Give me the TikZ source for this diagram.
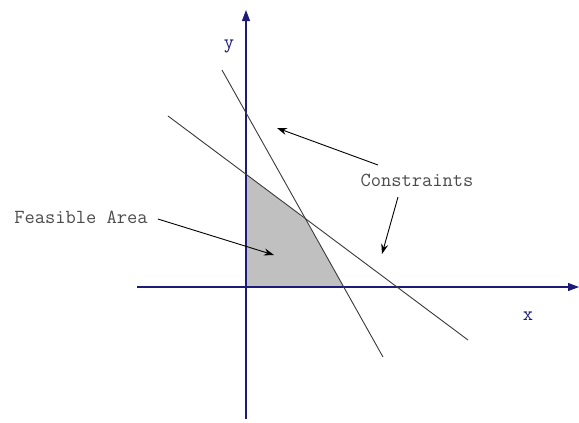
\documentclass[tikz,border=0pt]{standalone}
\usetikzlibrary{arrows.meta}
\definecolor{AxisNavy}{HTML}{1C1C78}
\definecolor{LineGray}{HTML}{3A3A3A}
\definecolor{AreaGray}{HTML}{C0C0C0}
\tikzset{
  axisline/.style={draw=AxisNavy, line width=1.1pt, -{Triangle[length=11bp, width=8bp]}},
  constraintline/.style={draw=LineGray, line width=0.9pt},
  arrownote/.style={draw=black, line width=0.9pt, -{Stealth[length=10bp, width=7bp]}},
  labeltext/.style={font=\ttfamily\fontsize{20}{22}\selectfont, text=black!70, inner sep=2pt},
  axistext/.style={font=\ttfamily\fontsize{20}{22}\selectfont, text=AxisNavy, inner sep=1pt}
}
\begin{document}
\begin{tikzpicture}[x=1bp, y=-1bp]
  \useasboundingbox[fill=white] (0,0) rectangle (579,422);

  % feasible region
  \fill[AreaGray] (246,287) -- (246,174) -- (305,219) -- (344,287) -- cycle;

  % axes
  \coordinate (xstart) at (137,287);
  \coordinate (xend)   at (579,287);
  \coordinate (ystart) at (246,419);
  \coordinate (yend)   at (246,10);
  \draw[axisline] (xstart) -- (xend);
  \draw[axisline] (ystart) -- (yend);
  \node[axistext] (ylabel) at (229,46)  {y};
  \node[axistext] (xlabel) at (528,316) {x};

  % constraints
  \coordinate (steeptop) at (222,70);
  \coordinate (steepbot) at (383,357);
  \coordinate (flattop)  at (168,116);
  \coordinate (flatbot)  at (468,340);
  \draw[constraintline] (steeptop) -- (steepbot);
  \draw[constraintline] (flattop) -- (flatbot);

  % labels and pointers
  \node[labeltext] (feasible)    at (81,217)  {Feasible Area};
  \node[labeltext] (constraints) at (417,180) {Constraints};
  \coordinate (areapt)  at (274,255);
  \coordinate (steeppt) at (277,128);
  \coordinate (flatpt)  at (382,254);
  \coordinate (cstart)  at (378,165);
  \coordinate (cbelow)  at (398,197);
  \draw[arrownote] (feasible.east) ++(8,2) -- (areapt);
  \draw[arrownote] (cstart) -- (steeppt);
  \draw[arrownote] (cbelow) -- (flatpt);
\end{tikzpicture}
\end{document}
